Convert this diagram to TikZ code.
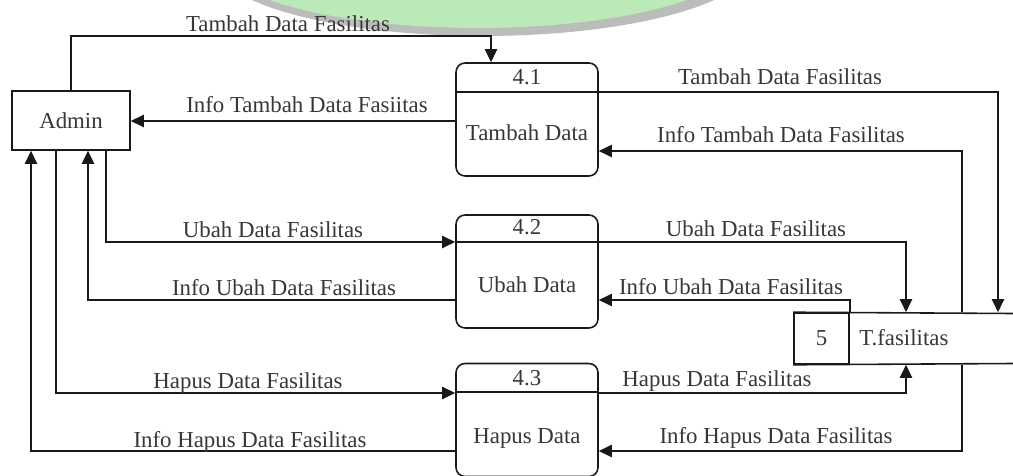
\documentclass[tikz,border=0pt]{standalone}
\usepackage{fontspec}
\setmainfont{Liberation Serif}
\usetikzlibrary{arrows.meta}
\definecolor{txt}{RGB}{55,55,55}
\definecolor{ln}{RGB}{25,25,25}
\definecolor{blobg}{RGB}{188,233,184}
\definecolor{blobs}{RGB}{186,189,186}
\begin{document}
\begin{tikzpicture}[x=0.02cm, y=-0.02cm,
  font=\fontsize{13}{15}\selectfont,
  lbl/.style={text=txt, inner sep=0pt, anchor=base},
  proc/.style={draw=ln, line width=0.9pt, rounded corners=0.18cm, minimum width=2.84cm, minimum height=2.26cm, inner sep=0pt},
  flow/.style={draw=ln, line width=0.9pt, -{Triangle[length=7.5pt,width=7pt]}},
  wire/.style={draw=ln, line width=0.9pt}]
\useasboundingbox (0,0) rectangle (1013,476);
\fill[white] (0,0) rectangle (1013,476);
% decorative blob at the top
\fill[blobs] (483,-40) ellipse [x radius=5.44cm, y radius=1.52cm];
\fill[blobg] (478,-45) ellipse [x radius=5.3cm, y radius=1.46cm];

% external entity
\node[draw=ln, line width=0.9pt, minimum width=2.36cm, minimum height=1.18cm, inner sep=0pt, text=txt] (admin) at (71,120.5) {Admin};

% processes
\node[proc] (p41) at (527,119.5) {};
\coordinate (d41) at (527,92);
\draw[wire] (p41.west |- d41) -- (p41.east |- d41);
\node[lbl] (n41) at (527,85) {4.1};
\node[lbl] (t41) at (527,141) {Tambah Data};

\node[proc] (p42) at (527,271.5) {};
\coordinate (d42) at (527,242);
\draw[wire] (p42.west |- d42) -- (p42.east |- d42);
\node[lbl] (n42) at (527,235) {4.2};
\node[lbl] (t42) at (527,292) {Ubah Data};

\node[proc] (p43) at (527,420) {};
\coordinate (d43) at (527,392);
\draw[wire] (p43.west |- d43) -- (p43.east |- d43);
\node[lbl] (n43) at (527,385) {4.3};
\node[lbl] (t43) at (527,443) {Hapus Data};

% data store
\node[draw=ln, line width=0.9pt, minimum width=1.1cm, minimum height=1.02cm, inner sep=0pt, text=txt] (sid) at (821.5,338.5) {5};
\coordinate (sTR) at (1013,313.5);
\coordinate (sBR) at (1013,363.5);
\draw[wire] (sid.north west) -- (sTR);
\draw[wire] (sid.south west) -- (sBR);
\node[lbl, anchor=base west] (sname) at (859,345) {T.fasilitas};

% flows Admin <-> 4.1
\coordinate (c1) at (491,36);
\draw[flow] (admin.north) |- (c1) -- (c1 |- p41.north);
\node[lbl] (l1) at (288,32) {Tambah Data Fasilitas};
\coordinate (c2) at (0,121);
\draw[flow] (p41.west |- c2) -- (admin.east |- c2);
\node[lbl] (l2) at (307,113) {Info Tambah Data Fasiitas};

% flows 4.1 <-> store
\coordinate (c3) at (998,92);
\draw[flow] (p41.east |- c3) -| (c3 |- sid.north);
\node[lbl] (l3) at (780,85) {Tambah Data Fasilitas};
\coordinate (c4) at (962,151);
\draw[flow] (c4 |- sid.north) |- (p41.east |- c4);
\node[lbl] (l4) at (781,143) {Info Tambah Data Fasilitas};

% flows Admin <-> 4.2
\coordinate (c5) at (106,242);
\draw[flow] (c5 |- admin.south) |- (p42.west |- c5);
\node[lbl] (l5) at (273,237) {Ubah Data Fasilitas};
\coordinate (c6) at (88,300);
\draw[flow] (p42.west |- c6) -| (c6 |- admin.south);
\node[lbl] (l6) at (284,295) {Info Ubah Data Fasilitas};

% flows Admin <-> 4.3
\coordinate (c7) at (56,393);
\draw[flow] (c7 |- admin.south) |- (p43.west |- c7);
\node[lbl] (l7) at (248,388) {Hapus Data Fasilitas};
\coordinate (c8) at (31,451);
\draw[flow] (p43.west |- c8) -| (c8 |- admin.south);
\node[lbl] (l8) at (250,447) {Info Hapus Data Fasilitas};

% flows 4.2 <-> store
\coordinate (c9) at (906,242);
\draw[flow] (p42.east |- c9) -| (c9 |- sid.north);
\node[lbl] (l9) at (756,236) {Ubah Data Fasilitas};
\coordinate (c10) at (849,300);
\draw[flow] (sid.north east) |- (p42.east |- c10);
\node[lbl] (l10) at (731,294) {Info Ubah Data Fasilitas};

% flows 4.3 <-> store
\coordinate (c11) at (906,393);
\draw[flow] (p43.east |- c11) -| (c11 |- sid.south);
\node[lbl] (l11) at (717,386) {Hapus Data Fasilitas};
\coordinate (c12) at (962,451);
\draw[flow] (c12 |- sid.south) |- (p43.east |- c12);
\node[lbl] (l12) at (776,443) {Info Hapus Data Fasilitas};
\end{tikzpicture}
\end{document}
